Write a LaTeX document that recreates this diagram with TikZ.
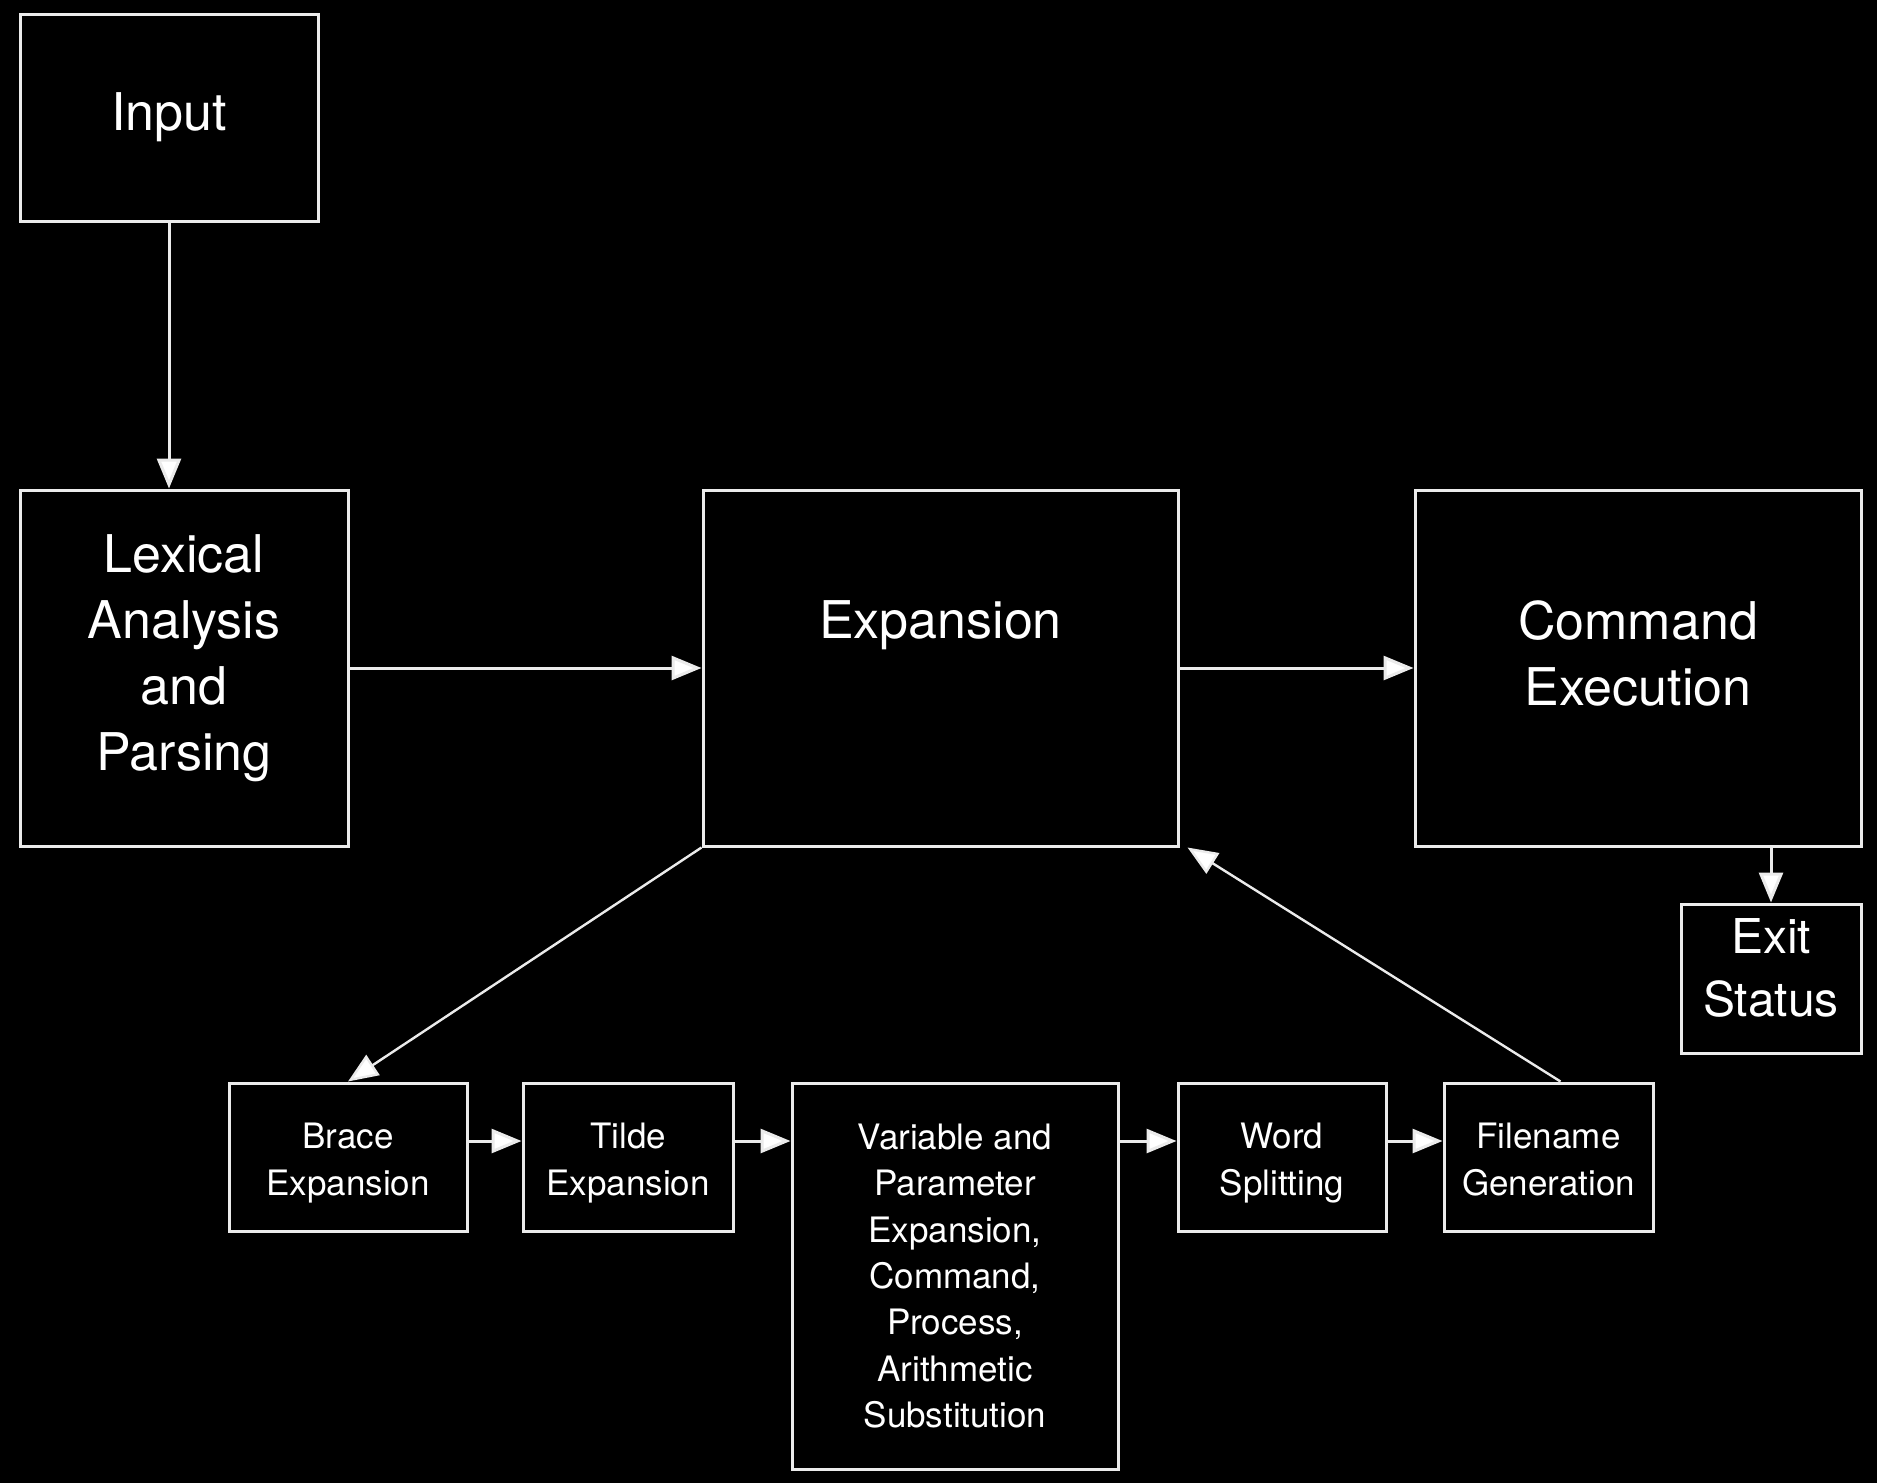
\documentclass[tikz,border=0pt]{standalone}
\usepackage{fontspec}
\setmainfont{TeX Gyre Heros}
\usetikzlibrary{arrows.meta}
\begin{document}
\begin{tikzpicture}[x=1pt,y=-1pt,
  box/.style={draw=white!92!black, line width=3pt, rectangle, inner sep=0pt},
  txt/.style={inner sep=0pt, align=center, text=white},
  big/.style={txt, font=\fontsize{52}{66}\selectfont},
  mid/.style={txt, font=\fontsize{48}{63}\selectfont},
  small/.style={txt, font=\fontsize{35}{46.3}\selectfont},
  conn/.style={draw=white!92!black, line width=3pt, -{Triangle[length=30pt,width=24pt,fill=white]}},
  thin/.style={draw=white!92!black, line width=2.4pt, -{Triangle[length=30pt,width=24pt,fill=white]}}]
\fill[black] (0,0) rectangle (1877,1483);
\useasboundingbox (0,0) rectangle (1877,1483);
% top row boxes
\node[box, minimum width=298pt, minimum height=207pt] (in) at (169,117.5) {};
\node[box, minimum width=328pt, minimum height=356pt] (lex) at (184,668) {};
\node[box, minimum width=475pt, minimum height=356pt] (exp) at (940.5,668) {};
\node[box, minimum width=446pt, minimum height=356pt] (cmd) at (1638,668) {};
\node[box, minimum width=180pt, minimum height=149pt] (exit) at (1771,978.5) {};
% bottom chain boxes
\node[box, minimum width=238pt, minimum height=148pt] (brace) at (348,1157) {};
\node[box, minimum width=210pt, minimum height=148pt] (tilde) at (628,1157) {};
\node[box, minimum width=326pt, minimum height=386pt] (var) at (955,1276) {};
\node[box, minimum width=208pt, minimum height=148pt] (word) at (1282,1157) {};
\node[box, minimum width=209pt, minimum height=148pt] (file) at (1548.5,1157) {};
% texts
\node[big] (intxt) at (in.center) {Input};
\node[big] (lextxt) at ([yshift=10pt]lex.center) {Lexical\\Analysis\\and\\Parsing};
\node[big] (exptxt) at (940.5,625) {Expansion};
\node[big] (cmdtxt) at ([yshift=15pt]cmd.center) {Command\\Execution};
\node[mid] (exittxt) at ([yshift=11pt]exit.center) {Exit\\Status};
\node[small] (bracetxt) at ([yshift=-6pt]brace.center) {Brace\\Expansion};
\node[small] (tildetxt) at ([yshift=-6pt]tilde.center) {Tilde\\Expansion};
\node[small] (vartxt) at (var.center) {Variable and\\Parameter\\Expansion,\\Command,\\Process,\\Arithmetic\\Substitution};
\node[small] (wordtxt) at ([yshift=-6pt]word.center) {Word\\Splitting};
\node[small] (filetxt) at ([yshift=-2.5pt]file.center) {Filename\\Generation};
% connectors
\draw[conn] (in.south) -- (in.south |- lex.north);
\draw[conn] (lex.east) -- (exp.west);
\draw[conn] (exp.east) -- (cmd.west);
\draw[conn] (exit.north |- cmd.south) -- (exit.north);
\draw[thin] (exp.south west) -- (brace.north);
\draw[thin] ([xshift=12pt]file.north) -- ([xshift=8pt]exp.south east);
\draw[conn] (brace.east |- 0,1141) -- (tilde.west |- 0,1141);
\draw[conn] (tilde.east |- 0,1141) -- (var.west |- 0,1141);
\draw[conn] (var.east |- 0,1141) -- (word.west |- 0,1141);
\draw[conn] (word.east |- 0,1141) -- (file.west |- 0,1141);
\end{tikzpicture}
\end{document}
